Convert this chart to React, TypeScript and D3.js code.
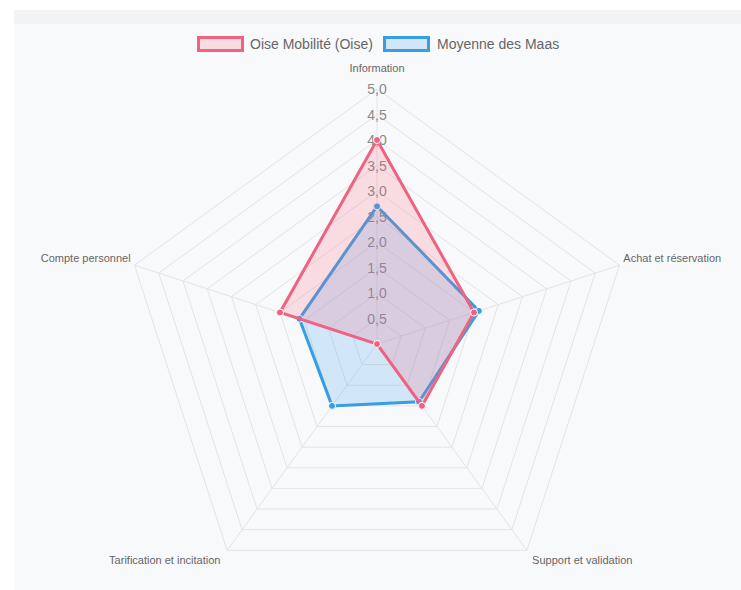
import React from "react";
import * as d3 from "d3";

const categories = [
  "Information",
  "Achat et réservation",
  "Support et validation",
  "Tarification et incitation",
  "Compte personnel",
];
const oiseValues = [4.0, 2.0, 1.5, 0, 2.0];
const maasValues = [2.7, 2.1, 1.4, 1.5, 1.6];
const tickValues = [0.5, 1.0, 1.5, 2.0, 2.5, 3.0, 3.5, 4.0, 4.5, 5.0];
const seriesNames = ["Oise Mobilité (Oise)", "Moyenne des Maas"];

const W = 741;
const H = 590;
const cx = 377;
const cy = 344;
const R = 255;

const pink = "rgb(240,98,130)";
const pinkFill = "rgba(255,99,132,0.2)";
const blue = "rgb(54,158,225)";
const blueFill = "rgba(54,162,235,0.2)";

export default function App() {
  const r = d3.scaleLinear().domain([0, 5]).range([0, R]);
  const angle = d3
    .scaleLinear()
    .domain([0, categories.length])
    .range([0, 2 * Math.PI]);
  const pt = (i: number, v: number): [number, number] => {
    const a = angle(i);
    return [cx + r(v) * Math.sin(a), cy - r(v) * Math.cos(a)];
  };
  const poly = (vals: number[]) =>
    d3.line<number>()
      .x((v, i) => pt(i, v)[0])
      .y((v, i) => pt(i, v)[1])
      .curve(d3.curveLinearClosed)(vals) as string;

  const font = "'Liberation Sans', Arial, Helvetica, sans-serif";

  const labelPos = (i: number) => {
    const a = angle(i);
    const s = Math.sin(a);
    const c = Math.cos(a);
    let anchor: "start" | "middle" | "end" = "middle";
    if (s > 0.3) anchor = "start";
    else if (s < -0.3) anchor = "end";
    const rr = R + 4;
    let x = cx + rr * s;
    let y = cy - rr * c;
    if (i === 0) y = cy - R - 21;
    if (i === 1 || i === 4) {
      y = y - 6;
    }
    if (i === 2 || i === 3) {
      y = y + 7;
      x = x + (s > 0 ? 53 : -60);
      anchor = "middle";
    }
    return { x, y, anchor };
  };

  const series = [
    { name: seriesNames[1], vals: maasValues, stroke: blue, fill: blueFill },
    { name: seriesNames[0], vals: oiseValues, stroke: pink, fill: pinkFill },
  ];

  return (
    <svg
      width={W}
      height={H}
      style={{ position: "absolute", left: 0, top: 0, display: "block" }}
    >
      <rect x={0} y={0} width={W} height={H} fill="#ffffff" />
      <rect x={14} y={10} width={W - 14} height={H - 10} fill="#f8f9fb" />
      <rect x={14} y={10} width={W - 14} height={14} fill="#f2f3f5" />

      {/* grid rings */}
      {tickValues.map((t) => (
        <polygon
          key={t}
          points={categories.map((_, i) => pt(i, t).join(",")).join(" ")}
          fill="none"
          stroke="#e3e4e6"
          strokeWidth={1}
        />
      ))}
      {/* angle lines */}
      {categories.map((_, i) => {
        const [x, y] = pt(i, 5);
        return (
          <line key={i} x1={cx} y1={cy} x2={x} y2={y} stroke="#e3e4e6" strokeWidth={1} />
        );
      })}

      {/* tick labels */}
      {tickValues.map((t) => (
        <text
          key={t}
          x={cx}
          y={cy - r(t)}
          dy="0.36em"
          textAnchor="middle"
          fontFamily={font}
          fontSize={14}
          fill="#8a8a8a"
        >
          {d3.format(".1f")(t).replace(".", ",")}
        </text>
      ))}

      {/* point labels */}
      {categories.map((c, i) => {
        const p = labelPos(i);
        return (
          <text
            key={c}
            x={p.x}
            y={p.y}
            dy="0.35em"
            textAnchor={p.anchor}
            fontFamily={font}
            fontSize={11}
            fill="#666"
          >
            {c}
          </text>
        );
      })}

      {/* datasets */}
      {series.map((s) => (
        <g key={s.name}>
          <path d={poly(s.vals)} fill={s.fill} stroke={s.stroke} strokeWidth={3} strokeLinejoin="miter" />
          {s.vals.map((v, i) => {
            const [x, y] = pt(i, v);
            return (
              <circle key={i} cx={x} cy={y} r={3.5} fill={s.stroke} stroke="#fff" strokeWidth={1} />
            );
          })}
        </g>
      ))}

      {/* legend */}
      <g fontFamily={font} fontSize={14} fill="#666">
        <rect x={198.5} y={37.5} width={44} height={13} fill={pinkFill} stroke={pink} strokeWidth={3} />
        <text x={250} y={44} dy="0.35em">{seriesNames[0]}</text>
        <rect x={384.5} y={37.5} width={44} height={13} fill={blueFill} stroke={blue} strokeWidth={3} />
        <text x={437} y={44} dy="0.35em">{seriesNames[1]}</text>
      </g>
    </svg>
  );
}
